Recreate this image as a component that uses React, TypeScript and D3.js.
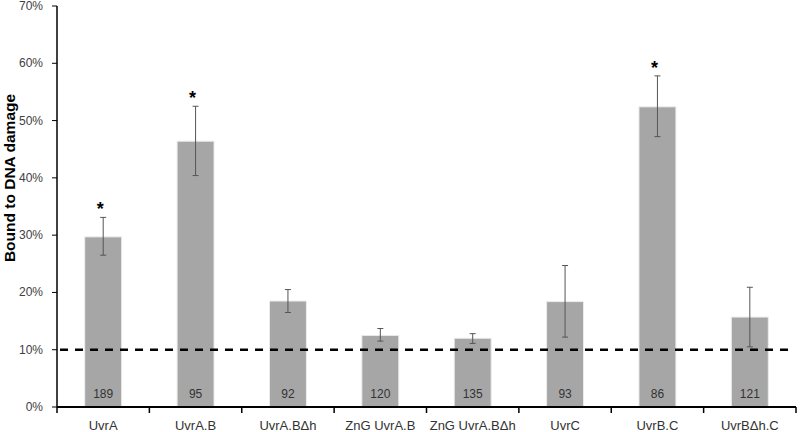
import React from "react";
import * as d3 from "d3";

const categories = ["UvrA", "UvrA.B", "UvrA.B\u0394h", "ZnG UvrA.B", "ZnG UvrA.B\u0394h", "UvrC", "UvrB.C", "UvrB\u0394h.C"];
const values = [0.297, 0.464, 0.185, 0.125, 0.12, 0.184, 0.524, 0.157];
const errLow = [0.265, 0.404, 0.165, 0.115, 0.111, 0.122, 0.472, 0.105];
const errHigh = [0.331, 0.525, 0.205, 0.137, 0.128, 0.247, 0.578, 0.209];
const counts = [189, 95, 92, 120, 135, 93, 86, 121];
const significant = [true, true, false, false, false, false, true, false];
const yTicks = [0, 0.1, 0.2, 0.3, 0.4, 0.5, 0.6, 0.7];
const threshold = 0.1;

export default function App() {
  const W = 800, H = 432;
  const left = 57, right = 796, top = 6, bottom = 407;
  const x = d3.scaleBand<string>().domain(categories).range([left, right]).paddingInner(0.6).paddingOuter(0.3);
  const band = d3.scaleBand<string>().domain(categories).range([left, right]);
  const y = d3.scaleLinear().domain([0, 0.7]).range([bottom, top]);
  const fmt = d3.format(".0%");
  const font = "'Liberation Sans', Arial, sans-serif";
  return (
    <svg width={W} height={H} style={{ position: "absolute", left: 0, top: 0 }} fontFamily={font}>
      <defs>
        <filter id="blur" x="-5%" y="-200%" width="110%" height="500%">
          <feGaussianBlur stdDeviation="1.2" />
        </filter>
      </defs>
      <rect width={W} height={H} fill="#fff" />
      {/* bars */}
      {categories.map((c, i) => (
        <rect key={c} x={x(c)} y={y(values[i])} width={x.bandwidth()} height={bottom - y(values[i])}
          fill="#a6a6a6" stroke="#ececec" strokeWidth={1} />
      ))}
      {/* threshold line with shadow */}
      <line x1={60} x2={792} y1={y(threshold) + 2.5} y2={y(threshold) + 2.5} stroke="#999" strokeWidth={3} strokeDasharray="8,7" filter="url(#blur)" opacity={0.7} />
      <line x1={60} x2={792} y1={y(threshold)} y2={y(threshold)} stroke="#000" strokeWidth={2.6} strokeDasharray="8,7" />
      {/* error bars */}
      {categories.map((c, i) => {
        const cx = (x(c) as number) + x.bandwidth() / 2;
        return (
          <g key={c} stroke="#555" strokeWidth={1}>
            <line x1={cx} x2={cx} y1={y(errLow[i])} y2={y(errHigh[i])} />
            <line x1={cx - 3} x2={cx + 3} y1={y(errLow[i])} y2={y(errLow[i])} />
            <line x1={cx - 3} x2={cx + 3} y1={y(errHigh[i])} y2={y(errHigh[i])} />
          </g>
        );
      })}
      {/* stars */}
      {categories.map((c, i) => significant[i] ? (
        <text key={c} x={(x(c) as number) + x.bandwidth() / 2 - 3} y={y(errHigh[i]) - 2} textAnchor="middle"
          fontSize={18} fontWeight="bold" fill="#000">*</text>
      ) : null)}
      {/* counts */}
      {categories.map((c, i) => (
        <text key={c} x={(x(c) as number) + x.bandwidth() / 2} y={398} textAnchor="middle" fontSize={12} fill="#333">{counts[i]}</text>
      ))}
      {/* y axis */}
      <line x1={left} x2={left} y1={top} y2={bottom} stroke="#000" strokeWidth={1.5} />
      {yTicks.map(t => (
        <g key={t}>
          <line x1={left - 5} x2={left} y1={y(t)} y2={y(t)} stroke="#000" strokeWidth={1} />
          <text x={43} y={y(t) + 4} textAnchor="end" fontSize={12} fill="#404040">{fmt(t)}</text>
        </g>
      ))}
      {/* x axis */}
      <line x1={left} x2={right} y1={bottom} y2={bottom} stroke="#000" strokeWidth={2} />
      {d3.range(categories.length + 1).map(i => {
        const px = i < categories.length ? (band(categories[i]) as number) : right;
        return <line key={i} x1={px} x2={px} y1={bottom} y2={bottom + 6} stroke="#000" strokeWidth={1.5} />;
      })}
      {categories.map(c => (
        <text key={c} x={(band(c) as number) + band.bandwidth() / 2} y={430} textAnchor="middle" fontSize={13} fill="#333">{c}</text>
      ))}
      <text transform={`translate(15,178) rotate(-90)`} textAnchor="middle" fontSize={15.5} fontWeight="bold" fill="#000">Bound to DNA damage</text>
    </svg>
  );
}
